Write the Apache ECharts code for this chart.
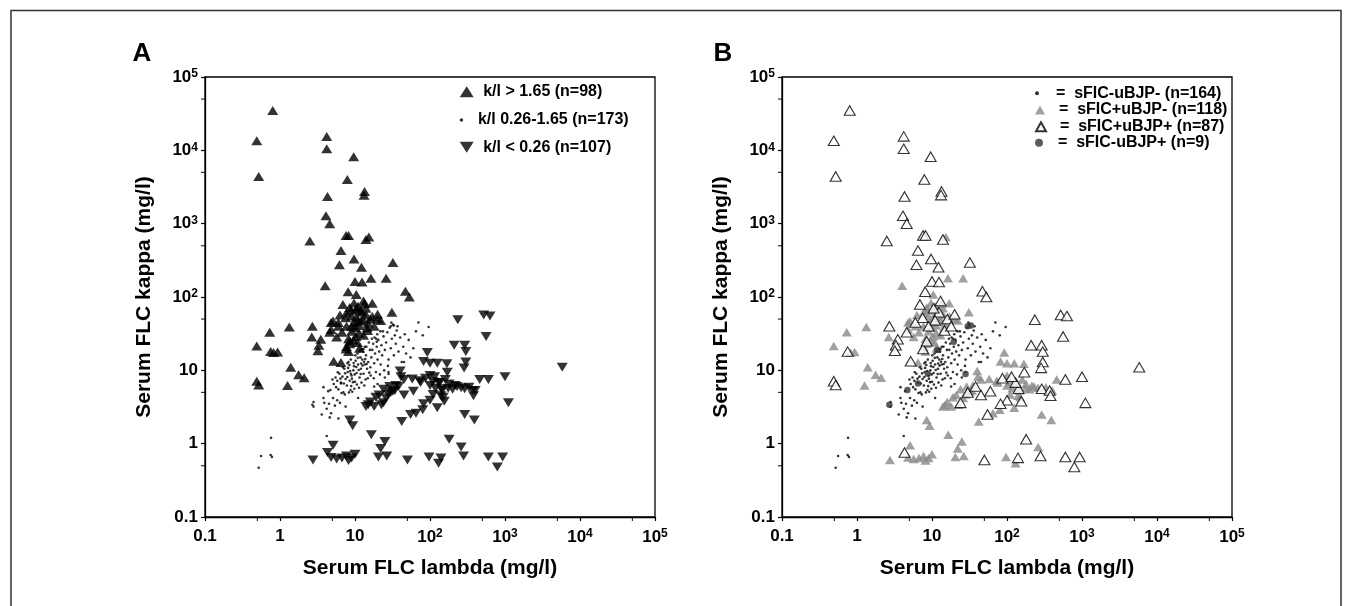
<!DOCTYPE html>
<html>
<head>
<meta charset="utf-8">
<script src="https://cdn.jsdelivr.net/npm/echarts@6/dist/echarts.min.js"></script>
<style>html,body{margin:0;padding:0;background:#fff}#c{width:1352px;height:606px}</style>
</head>
<body>
<div id="c"></div>
<script>
// ---------- data (serum FLC lambda, serum FLC kappa) in mg/l ----------
const axisMin = 0.1, axisMax = 100000;
const minorTicks = [0.5, 5, 50, 500, 5000, 50000];
const ratioHigh = 1.65, ratioLow = 0.26;

const legendA = ['k/l > 1.65 (n=98)', 'k/l 0.26-1.65 (n=173)', 'k/l < 0.26 (n=107)'];
const legendB = ['sFIC-uBJP- (n=164)', 'sFIC+uBJP- (n=118)', 'sFIC+uBJP+ (n=87)', 'sFIC-uBJP+ (n=9)'];
const panelLabels = ['A', 'B'];
const xTitle = 'Serum FLC lambda (mg/l)';
const yTitle = 'Serum FLC kappa (mg/l)';

// sFIC- uBJP- (small dots)
const sNegUNeg = [
 [0.52,0.47],[0.56,0.68],[0.75,0.7],[0.78,0.66],[0.76,1.2],[4.2,1.27],[4.6,2.28],[2.8,3.7],[2.8,3.2],[3.8,5.9],[3.8,4.2],[4.5,3.5],[70,45],[96,39],
 [5.2,6.5],[5.5,8],[5.8,7.2],[6,5.5],[6.2,9],[6.5,6.8],[6.8,8.2],[7,5],[7.2,10.5],[7.5,7.6],[7.8,6.2],[8,9.5],[5,7.5],[5.6,5.9],[6.6,4.9],[7.3,4.7],[8.3,5],[8.7,5.4],[9.2,5.1],[9.8,5.6],[6.9,11],[7.9,12.5],[8.4,11.8],[5.9,9.4],
 [8.5,7.2],[9,8.5],[9.5,10],[10,7],[10.5,9.2],[11,12],[11.5,8],[12,10.5],[12.5,14],[13,9],[13.5,12],[14,16],[14.5,10.5],[15,13],[8.8,14],[10.1,16],[10.2,13.5],[10.8,17],[11.8,15],[12.8,18],[13.8,7.5],[9.7,11.4],[8.2,13],[10.6,6.4],[11.3,5.8],[12.2,6.8],[13.3,6.2],[14.8,7.8],[15.5,9.3],
 [16,11],[16.5,15],[17,19],[17.5,23],[18,12.5],[18.5,17],[19,9.5],[19.5,21],[20,14],[20.5,26],[21,18],[22,12],[22.5,22],[23,16],[24,29],[24.5,10],[25,19],[16.2,8.5],[17.8,7.8],[21.5,8.8],[19.2,27],
 [26,24],[27,33],[28,14],[29,38],[30,20],[31,27],[32,42],[33,16],[34,30],[35,23],[36,35],[38,18],[40,28],[42,13],[44,21],[27.5,11.5],[30.5,45],[37,40],[46,31],[48,17],
 [52,26],[55,15],[60,20],[65,34],[80,30],[45,13],
 [3.6,2.5],[4.2,3],[4.8,2.6],[5.1,4.2],[5.4,3.3],[4.4,5.2],[3.9,3.6],[5.8,3.9],[6.3,3.6],
 [7.9,8.1],[8.6,9.8],[9.1,7.7],[9.9,8.8],[10.4,11.1],[11.2,10.1],[11.9,8.9],[12.6,11.6],[13.2,13.1],[7.4,9.1],[8.1,10.8],[9.6,12.6],[10.9,14.8],[12.1,12.4],[13.7,14.3],[14.3,12.2],[6.4,7.7],[7.1,6.6],[8.9,6.1],[9.4,6.9],
 [11.5,18],[12.4,19.5],[13.5,21],[14.2,21],[15.3,24],[16.8,27],[18.2,28],[19.8,31],[21.8,34],[23.5,34],[15.8,19],[13,19.5],
 [20,6.5],[25,8],[18,6],[6,2.2],[7.5,3.2],[11,4.2],[28,9.5]
];

// sFIC+ uBJP- (grey filled triangles)
const sPosUNeg = [
 [15.3,660],[4.0,142],[16.3,180],[26,180],[10.4,108],
 [0.49,21.5],[0.73,33],[0.82,17.5],[0.93,17.8],[1.33,39],[1.39,11],[1.26,6.2],[1.77,8.7],[2.1,7.9],[2.65,28.5],
 [9.7,83],[13.4,81],[17,82],[10.7,68],[8.8,66],[7.7,61],[6.3,57],[5.1,47],[4.8,45],[14.1,57],[12.7,50],[17,54],[22,48],[31,62],[10.4,53],[9.7,45],[7.7,40],[9.0,34],[6.7,33],[11.4,32],[14.5,38],[10.3,29],[8.2,27],[5.7,28.5],[4.8,36],[14.9,44],[11.4,41],[8.5,23],[10.8,24],[7.7,21],[8.2,18],[6.5,12.8],[11,75],[9,55],[12,65],[14,70],[10,38],[13,30],[9.5,26],[11.5,20],[6,40],[20,50],[12,47],[8.5,72],
 [460,7.5],[290,2.5],[390,2.1],[260,0.9],[130,0.54],[97,0.66],[92,17.5],[82,13.2],[100,12.5],[125,12.5],[73,7.2],[58,7.6],[41,8.2],[40,9.8],[29,6],[34,5.3],
 [100,6.2],[118,5.7],[145,5.3],[175,5.7],[215,6.2],[110,4.7],[150,4.3],[125,3.1],[330,5.9],[400,5.3],[80,2.9],[65,2.6],[42,2.0],
 [19,4.3],[16,3.7],[14,3.2],[22.5,3.4],[28,4.7],[32,5.2],[8.5,2.1],[9.3,1.75],[16.5,1.32],[25,1.07],[22,0.86],[20.5,0.66],[26.5,0.68],[2.75,0.6],
 [5.1,0.95],[4.8,0.65],[5.7,0.62],[6.7,0.64],[7.7,0.68],[8.2,0.59],[10,0.72],[9,0.64],
 [21,4.6],[24,5.5],[26,4.2],[35,6.2],[45,7.5],[15,3.4],[18,3.2],[110,7],[135,6.8],[160,7.5],[180,6.5],[200,5.5],[140,4.5],[230,6],[260,5.8],[100,8.5],[75,6.8],[168,12.3]
];

// sFIC+ uBJP+ (open triangles)
const sPosUPos = [
 [0.8,35000],[0.49,13500],[0.52,4400],[4.2,15500],[4.2,10500],[9.6,8200],[7.9,4000],[4.3,2350],[13.4,2750],[13.2,2450],[4.1,1280],[4.6,1000],[2.5,580],[7.6,690],[8.2,690],[14,610],[6.5,430],[9.7,330],[6.2,275],[12.2,255],[32,295],[10,163],[12.4,160],[47,120],[53,100],[8.1,118],
 [6.9,79],[12.4,62],[2.7,40],[3.5,26.5],[3.3,22],[3.2,18.5],[4.6,33],[7.6,19.5],[5.2,13.3],[14.7,35],[0.49,7.1],[0.52,6.3],[0.75,18],[11,48],[9,40],[16,50],[8.5,25],[10.5,70],[13,88],[7.5,52],[20,58],[6,45],[18,40],
 [5800,11],[1110,3.6],[1000,8.2],[600,7.5],[520,57],[630,55],[560,29],[235,49],[210,22],[290,22],[300,18],[300,13],[285,10.8],[180,1.15],[600,0.66],[930,0.66],[790,0.48],[280,0.68],[140,0.64],[50,0.6],[170,9.4],[87,7.8],[143,5.6],[100,3.9],[82,3.5],[55,2.5],[155,3.8],[290,5.6],[370,5.3],[380,4.5],
 [4.3,0.76],[30,5],[38,6],[45,4.6],[60,5.2],[24,3.6],[130,6.8],[115,8.2]
];

// sFIC- uBJP+ (filled circles)
const sNegUPos = [
 [2.7,3.4],[4.7,5.4],[6.5,6.6],[8.8,9],[11.8,19],[19.5,24.5],[28,8.9],[30,40],[33,41]
];

// ---------- panel A groups: classified by kappa/lambda ratio ----------
const allPoints = [].concat(sNegUNeg, sPosUNeg, sPosUPos, sNegUPos);
const aUp = allPoints.filter(p => p[1] / p[0] > ratioHigh);
const aDown = allPoints.filter(p => p[1] / p[0] < ratioLow);
const aMid = allPoints.filter(p => p[1] / p[0] >= ratioLow && p[1] / p[0] <= ratioHigh);

// ---------- chart ----------
const FONT = "'Liberation Sans', Arial, Helvetica, sans-serif";
const UP = 'path://M5,0L10,9L0,9Z';
const DOWN = 'path://M0,0L10,0L5,9Z';

function tickFmt(v) {
  const e = Math.round(Math.log10(v));
  if (e === -1) return '0.1';
  if (e === 0) return '1';
  if (e === 1) return '10';
  return '{b|10}{s|' + e + '}';
}
const labelRich = {
  b: { fontSize: 17, fontWeight: 'bold', fontFamily: FONT, color: '#000' },
  s: { fontSize: 12, fontWeight: 'bold', fontFamily: FONT, color: '#000', verticalAlign: 'top', padding: [0, 0, 6, 0] }
};
function baseAxis(gi, isX) {
  return {
    type: 'log', logBase: 10, gridIndex: gi, min: axisMin, max: axisMax, splitNumber: 6,
    axisLine: { show: true, onZero: false, lineStyle: { color: '#000', width: 1.3 } },
    axisTick: { show: true, inside: false, length: 4, lineStyle: { color: '#000', width: 1.2 } },
    minorTick: { show: false },
    splitLine: { show: false },
    axisLabel: {
      formatter: tickFmt, color: '#000', fontSize: 17, fontWeight: 'bold', fontFamily: FONT,
      margin: isX ? 11 : 7, rich: labelRich, showMinLabel: true, showMaxLabel: true, hideOverlap: false
    },
    name: isX ? xTitle : yTitle,
    nameLocation: 'middle',
    nameGap: isX ? 41 : 50,
    nameTextStyle: { color: '#000', fontSize: 21, fontWeight: 'bold', fontFamily: FONT }
  };
}
function minorSeries(gi) {
  return [
    { type: 'scatter', xAxisIndex: gi, yAxisIndex: gi, data: minorTicks.map(v => [v, axisMin]),
      symbol: 'rect', symbolSize: [1.2, 4], symbolOffset: [0, 2], clip: false, silent: true,
      itemStyle: { color: '#000' }, z: 1 },
    { type: 'scatter', xAxisIndex: gi, yAxisIndex: gi, data: minorTicks.map(v => [axisMin, v]),
      symbol: 'rect', symbolSize: [4, 1.2], symbolOffset: [-2, 0], clip: false, silent: true,
      itemStyle: { color: '#000' }, z: 1 }
  ];
}
function legendItem(name, left, rowY, iconW, iconH, fontSize, prefix) {
  return {
    data: [name], left: left, top: rowY - 9, padding: 0, itemGap: 0, orient: 'horizontal',
    itemWidth: iconW, itemHeight: iconH, selectedMode: false, symbolKeepAspect: false,
    formatter: n => prefix + n,
    textStyle: { color: '#000', fontSize: fontSize, fontWeight: 'bold', fontFamily: FONT, lineHeight: 18 }
  };
}

const grids = [
  { left: 205, top: 77, width: 450, height: 440 },
  { left: 782, top: 77, width: 450, height: 440 }
].map(g => Object.assign(g, { show: true, borderColor: '#000', borderWidth: 1.3, backgroundColor: 'rgba(0,0,0,0)', containLabel: false, outerBoundsMode: 'none' }));

const option = {
  animation: false,
  backgroundColor: '#fff',
  grid: grids,
  xAxis: [baseAxis(0, true), baseAxis(1, true)],
  yAxis: [baseAxis(0, false), baseAxis(1, false)],
  legend: [
    legendItem(legendA[0], 459.7, 91.7, 14, 11, 16, ' '),
    legendItem(legendA[1], 459.7, 120, 14, 3.5, 16, ' '),
    legendItem(legendA[2], 459.7, 147.3, 14, 11, 16, ' '),
    legendItem(legendB[0], 1035, 93.3, 10, 4, 16, '  =  '),
    legendItem(legendB[1], 1035, 110, 10, 9, 16, '  =  '),
    legendItem(legendB[2], 1035, 126.7, 10, 9, 16, '  =  '),
    legendItem(legendB[3], 1035, 142.7, 10, 8, 16, '  =  ')
  ],
  graphic: [
    { type: 'polyline', silent: true, shape: { points: [[11, 606], [11, 10.5], [1341, 10.5], [1341, 606]] },
      style: { stroke: '#333', lineWidth: 1.5, fill: null } },
    { type: 'text', x: 142, y: 54, style: { text: panelLabels[0], font: 'bold 26px ' + FONT, fill: '#000', textAlign: 'center', textVerticalAlign: 'middle' } },
    { type: 'text', x: 723, y: 54, style: { text: panelLabels[1], font: 'bold 26px ' + FONT, fill: '#000', textAlign: 'center', textVerticalAlign: 'middle' } }
  ],
  series: [
    // Panel A
    { name: legendA[1], type: 'scatter', xAxisIndex: 0, yAxisIndex: 0, data: aMid, symbol: 'circle', symbolSize: 2.6, itemStyle: { color: '#000' }, z: 2 },
    { name: legendA[2], type: 'scatter', xAxisIndex: 0, yAxisIndex: 0, data: aDown, symbol: DOWN, symbolSize: [11, 9], itemStyle: { color: '#000' }, z: 3 },
    { name: legendA[0], type: 'scatter', xAxisIndex: 0, yAxisIndex: 0, data: aUp, symbol: UP, symbolSize: [11, 9], itemStyle: { color: '#000' }, z: 4 },
    // Panel B
    { name: legendB[1], type: 'scatter', xAxisIndex: 1, yAxisIndex: 1, data: sPosUNeg, symbol: UP, symbolSize: [10, 8.5], itemStyle: { color: '#888888' }, z: 2 },
    { name: legendB[2], type: 'scatter', xAxisIndex: 1, yAxisIndex: 1, data: sPosUPos, symbol: UP, symbolSize: [11, 9.5], itemStyle: { color: '#ffffff', borderColor: '#000', borderWidth: 1.1 }, z: 3 },
    { name: legendB[0], type: 'scatter', xAxisIndex: 1, yAxisIndex: 1, data: sNegUNeg, symbol: 'circle', symbolSize: 2.6, itemStyle: { color: '#000' }, z: 4 },
    { name: legendB[3], type: 'scatter', xAxisIndex: 1, yAxisIndex: 1, data: sNegUPos, symbol: 'circle', symbolSize: 6.5, itemStyle: { color: '#333' }, z: 5 }
  ].concat(minorSeries(0), minorSeries(1))
};

const chart = echarts.init(document.getElementById('c'), null, { renderer: 'canvas' });
chart.setOption(option);
</script>
</body>
</html>
